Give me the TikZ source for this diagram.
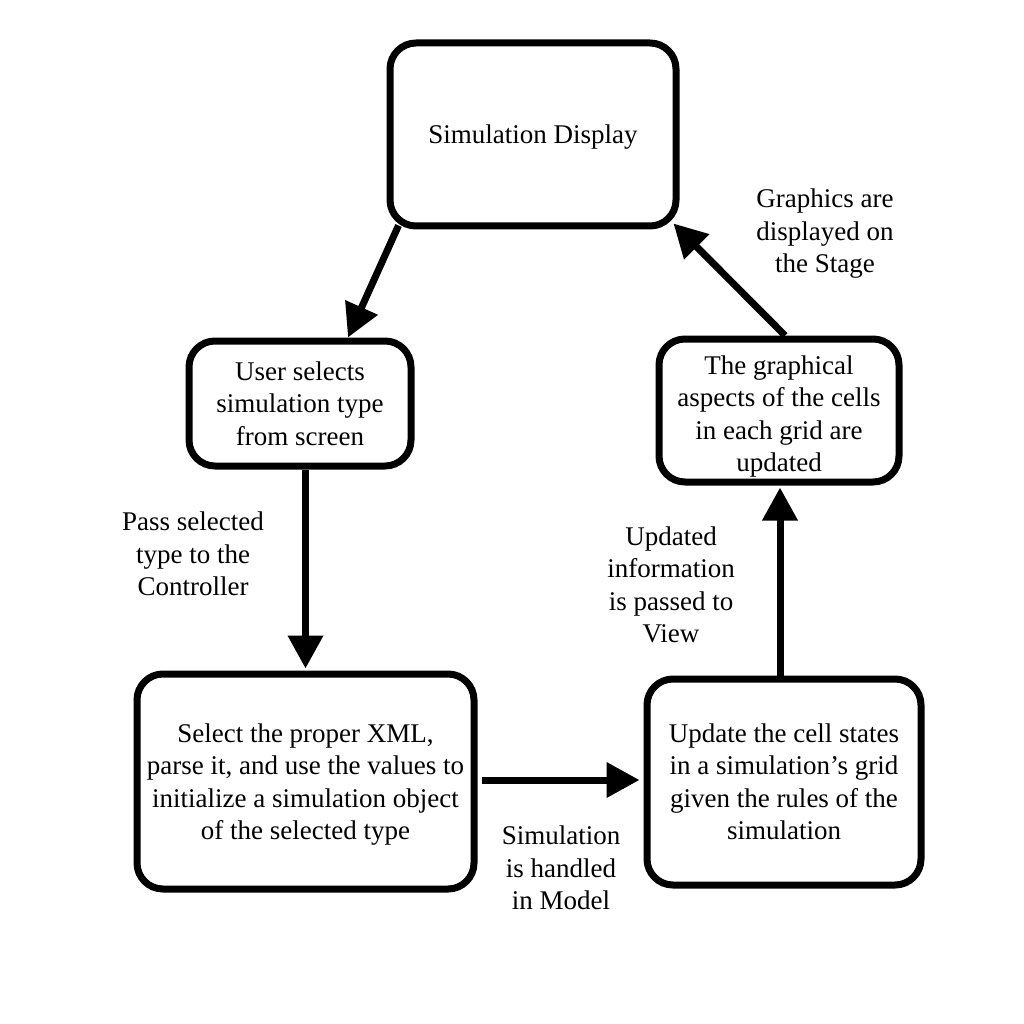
\documentclass[tikz,border=0pt]{standalone}
\usepackage{fontspec}
\setmainfont{Liberation Serif}
\usetikzlibrary{arrows.meta,calc}
\begin{document}
\begin{tikzpicture}[x=1pt,y=-1pt,
  box/.style={draw=black, line width=7pt, rounded corners=26pt, align=center,
    inner sep=0pt, font=\fontsize{27}{32.5}\selectfont},
  lbl/.style={align=center, inner sep=0pt, font=\fontsize{27}{32.5}\selectfont},
  flow/.style={line width=7pt, -{Triangle[length=33pt,width=34pt]}}]
\useasboundingbox[fill=white] (0,0) rectangle (1024,1024);

% process boxes
\node[box, minimum width=286pt, minimum height=183pt,
  label={[lbl, yshift=-3pt]center:Simulation Display}] (disp) at (533,134.5) {};
\node[box, minimum width=222pt, minimum height=125pt] (user) at (300,403.5)
  {User selects\\simulation type\\from screen};
\node[box, minimum width=240pt, minimum height=143pt,
  label={[lbl, yshift=-6pt]center:{The graphical\\aspects of the cells\\in each grid are\\updated}}] (gfx) at (779,410.5) {};
\node[box, minimum width=337pt, minimum height=215pt,
  label={[lbl, yshift=-3pt]center:{Select the proper XML,\\parse it, and use the values to\\initialize a simulation object\\of the selected type}}] (xml) at (305.5,781.5) {};
\node[box, minimum width=274pt, minimum height=206pt] (upd) at (784,782)
  {Update the cell states\\in a simulation’s grid\\given the rules of the\\simulation};

% connectors
\draw[flow] ($(disp.south west)+(12,-4)$) -- ($(user.north)+(48,0)$);
\draw[flow, shorten >=2pt] (user.south -| xml.north) -- (xml.north);
\draw[flow, shorten <=4.5pt, shorten >=4pt] ([yshift=1.5pt]xml.east) -- ([yshift=1.5pt]xml.east -| upd.west);
\draw[flow, shorten >=2pt] ([xshift=-4pt]upd.north) -- ([xshift=-4pt]upd.north |- gfx.south);
\draw[flow] ($(gfx.north)+(6,0)$) -- ($(disp.south east)+(-6,-6)$);

% connector labels
\node[lbl] (l1) at (825,234) {Graphics are\\displayed on\\the Stage};
\node[lbl] (l2) at (193,554) {Pass selected\\type to the\\Controller};
\node[lbl] (l3) at (671,585) {Updated\\information\\is passed to\\View};
\node[lbl] (l4) at (561,868) {Simulation\\is handled\\in Model};
\end{tikzpicture}
\end{document}
